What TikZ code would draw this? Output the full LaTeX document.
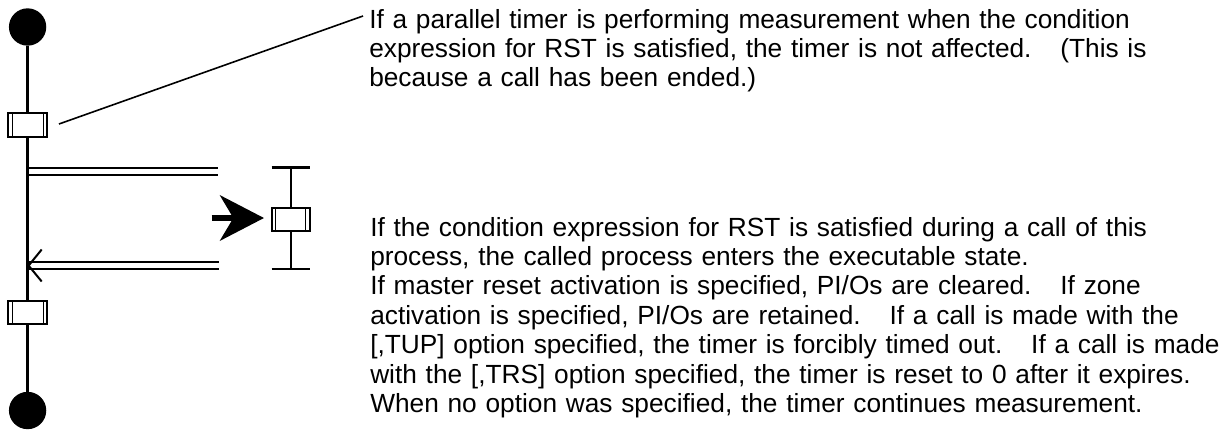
\documentclass[tikz,border=0pt]{standalone}
\usepackage{fontspec}
\setmainfont{Liberation Sans}
\usetikzlibrary{arrows.meta}
\newcommand\widegap{\hspace{1.1em}}
\begin{document}
\begin{tikzpicture}[x=0.75pt,y=-0.75pt,
  flow/.style={line width=1.8pt},
  rail/.style={line width=1.5pt},
  terminal/.style={circle,fill=black,inner sep=0pt,minimum size=28pt},
  timerbox/.style={draw,fill=white,line width=1.5pt,inner sep=0pt,
    minimum width=29pt,minimum height=17.5pt,
    path picture={
      \draw[line width=0.7pt]
        ([xshift=3pt]path picture bounding box.north west) --
        ([xshift=3pt]path picture bounding box.south west)
        ([xshift=-3pt]path picture bounding box.north east) --
        ([xshift=-3pt]path picture bounding box.south east);}},
  note/.style={inner sep=0pt,anchor=base west,align=left,text width=700pt,
    font=\fontsize{19.7pt}{22.1pt}\selectfont},
  bigarrow/.style={line width=4.2pt,
    -{Stealth[length=33pt,width=34pt,inset=10pt]}}]
\useasboundingbox (0,0) rectangle (1226,432);

% main flow: start terminal, end terminal and the line between them
\node[terminal] (start) at (27.6,27) {};
\node[terminal] (end) at (27.6,410.5) {};
\draw[flow] (start) -- (end);

% timers on the main flow
\node[timerbox] (t1) at (27.8,125) {};
\node[timerbox] (t2) at (27.8,312.3) {};

% call to the sub-process (double line)
\coordinate (callA) at (27.6,168);
\coordinate (callB) at (27.6,175.2);
\coordinate (callAe) at (218,168);
\coordinate (callBe) at (218,175.2);
\draw[rail] (callA) -- (callAe) (callB) -- (callBe);

% return from the sub-process (double line with open head)
\coordinate (retA) at (27.6,262);
\coordinate (retB) at (27.6,269.2);
\coordinate (retAe) at (219,262);
\coordinate (retBe) at (219,269.2);
\coordinate (retTip) at (28.6,265.6);
\coordinate (retUp) at (41.7,249.5);
\coordinate (retDn) at (41.7,281.5);
\draw[rail] (retA) -- (retAe) (retB) -- (retBe);
\draw[rail] (retUp) -- (retTip) -- (retDn);

% sub-process with its own timer
\coordinate (subTop) at (290.8,167.3);
\coordinate (subBot) at (290.8,268.8);
\coordinate (subTopL) at (271.7,167.3);
\coordinate (subTopR) at (310,167.3);
\coordinate (subBotL) at (271.7,268.8);
\coordinate (subBotR) at (310,268.8);
\draw[flow] (subTop) -- (subBot);
\draw[flow] (subTopL) -- (subTopR) (subBotL) -- (subBotR);
\node[timerbox,minimum width=28.7pt,minimum height=17.3pt] (t3) at (290.8,219.2) {};

% reset event
\coordinate (rstTail) at (211.7,218);
\draw[bigarrow,shorten >=5pt] (rstTail) -- (t3.west |- rstTail);

% notes
\node[note] (note1) at (369,28) {If a parallel timer is performing measurement when the condition\\
expression for RST is satisfied, the timer is not affected.\widegap(This is\\
because a call has been ended.)};
\node[note] (note2) at (370,236) {If the condition expression for RST is satisfied during a call of this\\
process, the called process enters the executable state.\\
If master reset activation is specified, PI/Os are cleared.\widegap If zone\\
activation is specified, PI/Os are retained.\widegap If a call is made with the\\
{[},TUP] option specified, the timer is forcibly timed out.\widegap If a call is made\\
with the [,TRS] option specified, the timer is reset to 0 after it expires.\\
When no option was specified, the timer continues measurement.};

% leader from the first timer to its note
\coordinate (leadA) at (59,124);
\coordinate (leadB) at (363,16);
\draw[line width=1.2pt] (leadA) -- (leadB);
\end{tikzpicture}
\end{document}
